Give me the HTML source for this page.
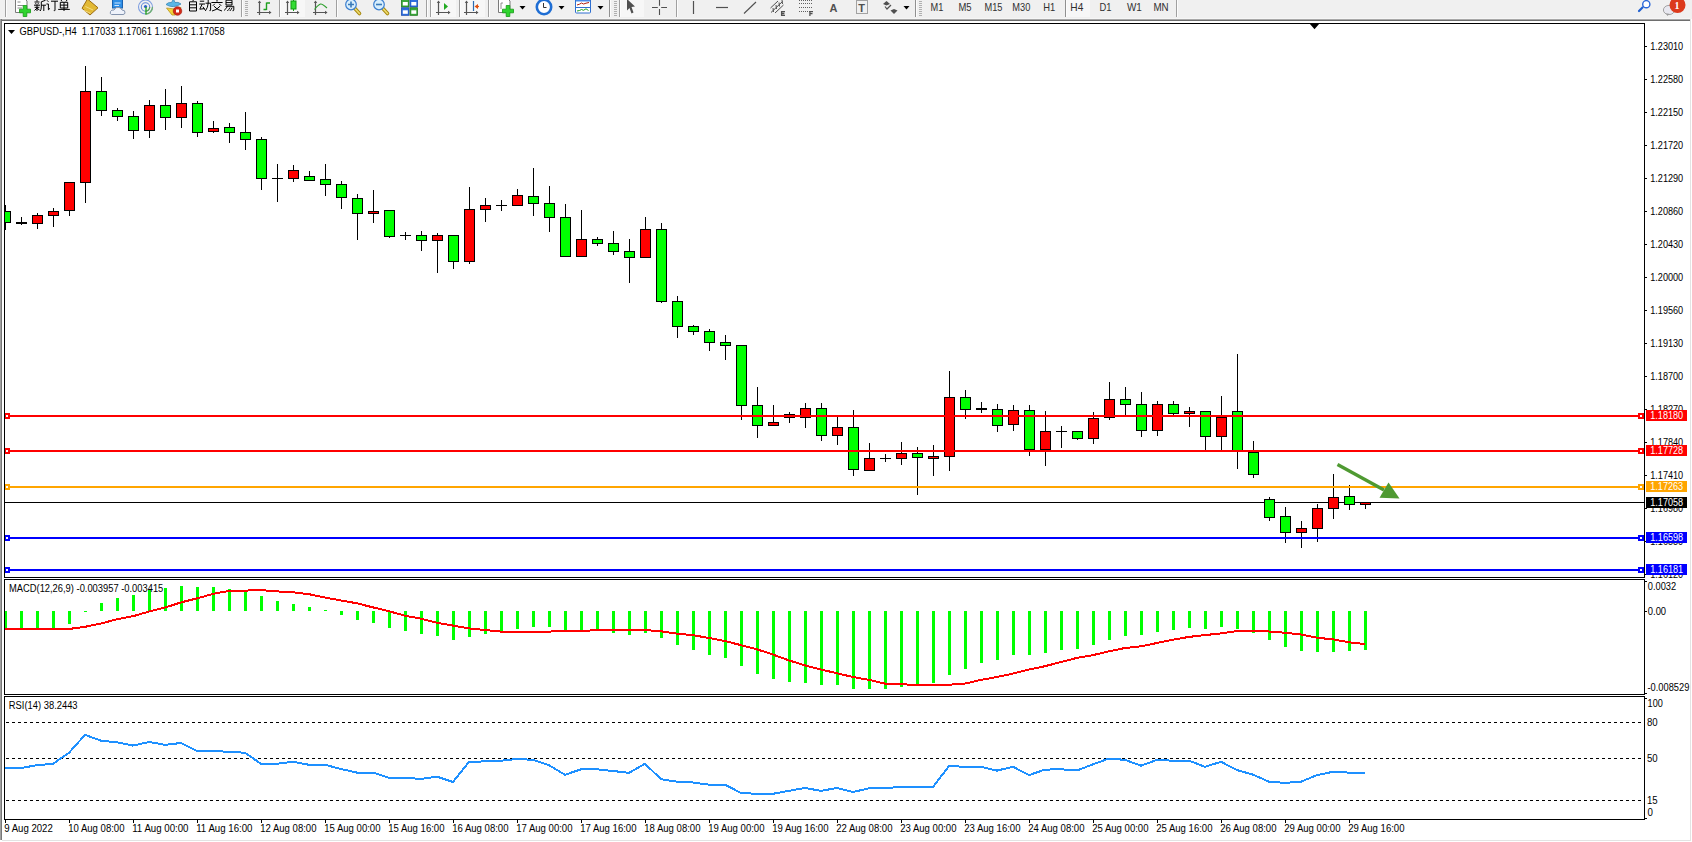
<!DOCTYPE html>
<html><head><meta charset="utf-8"><title>GBPUSD H4</title>
<style>
html,body{margin:0;padding:0;background:#fff;width:1692px;height:842px;overflow:hidden}
svg{position:absolute;left:0;top:0;display:block}
text{font-family:'Liberation Sans',sans-serif}
</style></head><body>
<svg width="1692" height="842" viewBox="0 0 1692 842" shape-rendering="crispEdges">

<rect x="0" y="0" width="1692" height="19" fill="#f0f0f0"/>
<rect x="0" y="18" width="1690" height="1" fill="#f6f6f6"/>
<rect x="0" y="19" width="1690" height="1" fill="#a8a8a8"/>
<rect x="0" y="20" width="1690" height="1" fill="#6e6e6e"/>
<g shape-rendering="geometricPrecision">
<rect x="5" y="0" width="1" height="17" fill="#a0a0a0" shape-rendering="crispEdges"/>
<rect x="6" y="0" width="1" height="17" fill="#fcfcfc" shape-rendering="crispEdges"/>
<path d="M15.5,-2 H24 L27,1 V12.5 H15.5 Z" fill="#fff" stroke="#7a7a7a" stroke-width="1"/>
<path d="M17.5,2 H20.5 M17.5,5.5 H23.5 M17.5,8 H22" stroke="#8a8a8a" stroke-width="1"/>
<path d="M23.2,5.5 h3.6 v3.7 h3.7 v3.6 h-3.7 v3.7 h-3.6 v-3.7 h-3.7 v-3.6 h3.7 z" fill="#2fd42f" stroke="#139a13" stroke-width="0.8"/>
<g transform="translate(34,0)" stroke="#000" stroke-width="1" fill="none" stroke-linecap="butt">
<path d="M3,0 V1.5 M0.5,2 H5.5 M1.6,3.2 L2.3,4.5 M4.4,3.2 L3.7,4.5 M0,5.2 H6 M0.6,7.3 H5.4 M3,5.2 V11 M3,8 L0.5,10.5 M3,8.3 L5.5,10 M11.5,0.3 L7.3,1.8 M7.3,1.8 V7 Q7.3,9.5 6.2,11 M7.3,5.2 H12 M9.8,5.2 V11"/>
</g>
<g transform="translate(46,0)" stroke="#000" stroke-width="1" fill="none" stroke-linecap="butt">
<path d="M1,0.3 L2.4,1.8 M0.4,4 H2.4 V9.8 L4,8.3 M5,1.2 H12 M9,1.2 V10.2 Q9,11 7.8,10.6"/>
</g>
<g transform="translate(58,0)" stroke="#000" stroke-width="1" fill="none" stroke-linecap="butt">
<path d="M3,0 L4,1.4 M9,0 L8,1.4 M2.3,2.3 H9.7 V8 H2.3 Z M2.3,5.1 H9.7 M6,2.3 V11 M0.2,9.4 H11.8"/>
</g>
<polygon points="87.5,-1 98,7.8 90,15 82,8.3" fill="#e2b935" stroke="#9c6c12" stroke-width="1"/>
<path d="M84,10.5 L90.5,13.2 M85.5,6.5 L93,10" stroke="#f5dc80" stroke-width="1"/>
<rect x="112.5" y="-2" width="10" height="10" fill="#2f8fe6" stroke="#1b62b0" stroke-width="1"/>
<path d="M114.5,3 H120.5 M114.5,5.5 H119" stroke="#cfe6ff" stroke-width="1"/>
<path d="M111.5,14.5 Q109.5,14 110.5,11.5 Q111.5,9.5 114,10 Q115.5,6.5 119,7.5 Q121.5,8 122,10 Q125.5,10 125,13 Q124.5,14.5 123,14.5 Z" fill="#eef2fa" stroke="#8494ae" stroke-width="1"/>
<circle cx="145.5" cy="7" r="7" fill="none" stroke="#7f9fe0" stroke-width="1.1"/>
<path d="M152.5,7 A7,7 0 0 1 145.5,14" stroke="#70b070" stroke-width="1.3" fill="none"/>
<circle cx="145.5" cy="7" r="4.2" fill="none" stroke="#5f8ad8" stroke-width="1.1"/>
<path d="M149.7,7 A4.2,4.2 0 0 1 145.5,11.2" stroke="#5aa55a" stroke-width="1.2" fill="none"/>
<circle cx="145.5" cy="6.5" r="1.6" fill="#2a5fc8"/>
<path d="M146,7 V14.5" stroke="#2aa52a" stroke-width="1.4" fill="none"/>
<path d="M166,4.5 Q173,9 181,4 Q178,1.5 175,2.5 L173.5,-1 L171.5,2.5 Q168,2 166,4.5 Z" fill="#5ab6e6" stroke="#3a86b6" stroke-width="0.8"/>
<path d="M166.5,8 Q173.5,10 181,7.5 L175,15 H172 Z" fill="#f2d43a" stroke="#b8941a" stroke-width="0.8"/>
<circle cx="177.5" cy="11" r="4.3" fill="#d42a18" stroke="#a01a0a" stroke-width="0.6"/>
<rect x="176" y="9.5" width="3" height="3" fill="#fff"/>
<g transform="translate(187,0)" stroke="#000" stroke-width="1" fill="none" stroke-linecap="butt">
<path d="M6.5,0 L5.5,1.3 M2.5,1.8 H9.5 V11 H2.5 Z M2.5,4.8 H9.5 M2.5,7.8 H9.5"/>
</g>
<g transform="translate(199,0)" stroke="#000" stroke-width="1" fill="none" stroke-linecap="butt">
<path d="M0.8,1.2 H5.2 M0.2,4 H6 M3.2,4 L0.8,9.2 L5.5,8.6 M4,6.8 L5.8,9.8 M6.5,3.2 H11.6 V10 Q11.6,11 10.5,10.6 M9.2,0 V3.2 Q9,7.5 6.3,11"/>
</g>
<g transform="translate(211,0)" stroke="#000" stroke-width="1" fill="none" stroke-linecap="butt">
<path d="M6,0 V1.6 M0.4,2.5 H11.6 M3.8,3.8 L1.8,5.8 M8.2,3.8 L10.2,5.8 M3,6.2 Q6,10 11,11 M9,6.2 Q6,10 1,11"/>
</g>
<g transform="translate(223,0)" stroke="#000" stroke-width="1" fill="none" stroke-linecap="butt">
<path d="M3,0.2 H9 V5 H3 Z M3,2.6 H9 M2.5,6.3 H10.8 V10 Q10.8,11 9.5,10.7 M4.5,6.3 Q3,9 1,10.5 M7,7.5 Q6,9.5 4.3,11 M9.2,7.5 Q8.3,9.5 6.8,11"/>
</g>
<rect x="241" y="0" width="1" height="17" fill="#a0a0a0" shape-rendering="crispEdges"/>
<rect x="242" y="0" width="1" height="17" fill="#fcfcfc" shape-rendering="crispEdges"/>
<rect x="245" y="1" width="3" height="1" fill="#b0b0b0" shape-rendering="crispEdges"/>
<rect x="245" y="3" width="3" height="1" fill="#b0b0b0" shape-rendering="crispEdges"/>
<rect x="245" y="5" width="3" height="1" fill="#b0b0b0" shape-rendering="crispEdges"/>
<rect x="245" y="7" width="3" height="1" fill="#b0b0b0" shape-rendering="crispEdges"/>
<rect x="245" y="9" width="3" height="1" fill="#b0b0b0" shape-rendering="crispEdges"/>
<rect x="245" y="11" width="3" height="1" fill="#b0b0b0" shape-rendering="crispEdges"/>
<rect x="245" y="13" width="3" height="1" fill="#b0b0b0" shape-rendering="crispEdges"/>
<rect x="245" y="15" width="3" height="1" fill="#b0b0b0" shape-rendering="crispEdges"/>
<path d="M259.5,1.5 V15 M257,12.5 H271" stroke="#555" stroke-width="1.2" fill="none"/>
<polygon points="259.5,0.5 257.8,3 261.2,3" fill="#555"/>
<polygon points="271.5,12.5 269,10.8 269,14.2" fill="#555"/>
<path d="M266.5,2.5 V10 M266.5,3 H270 M266.5,9.5 H263.5" stroke="#1fa01f" stroke-width="1.4" fill="none"/>
<rect x="279" y="0" width="1" height="17" fill="#a0a0a0" shape-rendering="crispEdges"/>
<rect x="280" y="0" width="1" height="17" fill="#fcfcfc" shape-rendering="crispEdges"/>
<rect x="281" y="0" width="24" height="17" fill="#f7f7f7" shape-rendering="crispEdges"/>
<path d="M287.5,1.5 V15 M285,12.5 H299" stroke="#555" stroke-width="1.2" fill="none"/>
<polygon points="287.5,0.5 285.8,3 289.2,3" fill="#555"/>
<polygon points="299.5,12.5 297,10.8 297,14.2" fill="#555"/>
<path d="M293.5,-1 V11" stroke="#119911" stroke-width="1"/>
<rect x="291" y="1" width="5" height="8" fill="#33dd33" stroke="#119911" stroke-width="1"/>
<path d="M315.5,1.5 V15 M313,12.5 H327" stroke="#555" stroke-width="1.2" fill="none"/>
<polygon points="315.5,0.5 313.8,3 317.2,3" fill="#555"/>
<polygon points="327.5,12.5 325,10.8 325,14.2" fill="#555"/>
<path d="M314.5,9.5 Q318,5 320.5,4 Q322,3.5 327,8" stroke="#2ea02e" stroke-width="1.1" fill="none"/>
<rect x="336" y="0" width="1" height="17" fill="#a0a0a0" shape-rendering="crispEdges"/>
<rect x="337" y="0" width="1" height="17" fill="#fcfcfc" shape-rendering="crispEdges"/>
<path d="M354,7.5 L359.5,13.5" stroke="#a88a10" stroke-width="3.6" stroke-linecap="round"/>
<path d="M354,7.5 L359.5,13.5" stroke="#f0dc70" stroke-width="1.6" stroke-linecap="round"/>
<circle cx="351" cy="4.5" r="5.3" fill="#d8eefc" stroke="#3c7fd0" stroke-width="1.2"/>
<path d="M348,4.5 H354 M351,1.5 V7.5" stroke="#3a7ab8" stroke-width="1.6"/>
<path d="M382,7.5 L387.5,13.5" stroke="#a88a10" stroke-width="3.6" stroke-linecap="round"/>
<path d="M382,7.5 L387.5,13.5" stroke="#f0dc70" stroke-width="1.6" stroke-linecap="round"/>
<circle cx="379" cy="4.5" r="5.3" fill="#d8eefc" stroke="#3c7fd0" stroke-width="1.2"/>
<path d="M376,4.5 H382" stroke="#3a7ab8" stroke-width="1.6"/>
<rect x="401.5" y="-0.5" width="7.5" height="7.5" fill="#3aa83a" stroke="#1f7a1f" stroke-width="0.8"/>
<rect x="402.8" y="2" width="5" height="3.5" fill="#fff"/>
<rect x="410.0" y="-0.5" width="7.5" height="7.5" fill="#2f6fe0" stroke="#1c4cb0" stroke-width="0.8"/>
<rect x="411.3" y="2" width="5" height="3.5" fill="#fff"/>
<rect x="401.5" y="7.8" width="7.5" height="7.5" fill="#2f6fe0" stroke="#1c4cb0" stroke-width="0.8"/>
<rect x="402.8" y="10.3" width="5" height="3.5" fill="#fff"/>
<rect x="410.0" y="7.8" width="7.5" height="7.5" fill="#3aa83a" stroke="#1f7a1f" stroke-width="0.8"/>
<rect x="411.3" y="10.3" width="5" height="3.5" fill="#fff"/>
<rect x="426" y="0" width="1" height="17" fill="#a0a0a0" shape-rendering="crispEdges"/>
<rect x="427" y="0" width="1" height="17" fill="#fcfcfc" shape-rendering="crispEdges"/>
<rect x="430" y="0" width="1" height="17" fill="#a0a0a0" shape-rendering="crispEdges"/>
<rect x="431" y="0" width="1" height="17" fill="#fcfcfc" shape-rendering="crispEdges"/>
<rect x="432" y="0" width="24" height="17" fill="#f7f7f7" shape-rendering="crispEdges"/>
<path d="M438.5,1.5 V15 M436,12.5 H450" stroke="#555" stroke-width="1.2" fill="none"/>
<polygon points="438.5,0.5 436.8,3 440.2,3" fill="#555"/>
<polygon points="450.5,12.5 448,10.8 448,14.2" fill="#555"/>
<polygon points="444,3 448,6.5 444,10" fill="#22aa22"/>
<rect x="459" y="0" width="1" height="17" fill="#a0a0a0" shape-rendering="crispEdges"/>
<rect x="460" y="0" width="1" height="17" fill="#fcfcfc" shape-rendering="crispEdges"/>
<rect x="461" y="0" width="24" height="17" fill="#f7f7f7" shape-rendering="crispEdges"/>
<path d="M466.5,1.5 V15 M464,12.5 H478" stroke="#555" stroke-width="1.2" fill="none"/>
<polygon points="466.5,0.5 464.8,3 468.2,3" fill="#555"/>
<polygon points="478.5,12.5 476,10.8 476,14.2" fill="#555"/>
<path d="M473.5,1 V11" stroke="#2a6ab0" stroke-width="1.2"/>
<polygon points="474.5,6.5 478,4 478,9" fill="#e05010"/>
<path d="M476,6.5 H479" stroke="#e05010" stroke-width="1.2"/>
<rect x="488" y="0" width="1" height="17" fill="#a0a0a0" shape-rendering="crispEdges"/>
<rect x="489" y="0" width="1" height="17" fill="#fcfcfc" shape-rendering="crispEdges"/>
<path d="M498.5,-2 H507 L510,1 V12.5 H498.5 Z" fill="#fff" stroke="#7a7a7a" stroke-width="1"/>
<path d="M501,3 V9 M501,3 H503" stroke="#777" stroke-width="0.8"/>
<path d="M506.2,5.5 h3.6 v3.7 h3.7 v3.6 h-3.7 v3.7 h-3.6 v-3.7 h-3.7 v-3.6 h3.7 z" fill="#2fd42f" stroke="#139a13" stroke-width="0.8"/>
<polygon points="519.5,6 525.5,6 522.5,9.5" fill="#000"/>
<circle cx="544" cy="7" r="7.2" fill="#fff" stroke="#1f6ed4" stroke-width="2.6"/>
<path d="M543.5,3 V7.5 H546.5" stroke="#333" stroke-width="1" fill="none"/>
<polygon points="558.5,6 564.5,6 561.5,9.5" fill="#000"/>
<rect x="575.5" y="-1" width="15" height="14" rx="1" fill="#fff" stroke="#2f6fd0" stroke-width="1"/>
<rect x="576" y="-1" width="14" height="2.5" fill="#4a8ae8"/>
<path d="M576,7.5 H590" stroke="#2f6fd0" stroke-width="1"/>
<path d="M577,5 L579.5,4.2 L581.5,3 L583.5,4 L586,3.2 L589,2.5" stroke="#b02010" stroke-width="1" fill="none"/>
<path d="M577,11 L579.5,10.5 L581.5,9.5 L583.5,10.3 L586,8.8 L588.5,10.5" stroke="#20a020" stroke-width="1" fill="none"/>
<polygon points="597.5,6 603.5,6 600.5,9.5" fill="#000"/>
<rect x="609" y="0" width="1" height="17" fill="#909090" shape-rendering="crispEdges"/>
<rect x="610" y="0" width="1" height="17" fill="#fcfcfc" shape-rendering="crispEdges"/>
<rect x="614" y="1" width="3" height="1" fill="#b0b0b0" shape-rendering="crispEdges"/>
<rect x="614" y="3" width="3" height="1" fill="#b0b0b0" shape-rendering="crispEdges"/>
<rect x="614" y="5" width="3" height="1" fill="#b0b0b0" shape-rendering="crispEdges"/>
<rect x="614" y="7" width="3" height="1" fill="#b0b0b0" shape-rendering="crispEdges"/>
<rect x="614" y="9" width="3" height="1" fill="#b0b0b0" shape-rendering="crispEdges"/>
<rect x="614" y="11" width="3" height="1" fill="#b0b0b0" shape-rendering="crispEdges"/>
<rect x="614" y="13" width="3" height="1" fill="#b0b0b0" shape-rendering="crispEdges"/>
<rect x="614" y="15" width="3" height="1" fill="#b0b0b0" shape-rendering="crispEdges"/>
<rect x="619" y="0" width="1" height="17" fill="#a0a0a0" shape-rendering="crispEdges"/>
<rect x="620" y="0" width="1" height="17" fill="#fcfcfc" shape-rendering="crispEdges"/>
<rect x="621" y="0" width="23" height="17" fill="#f7f7f7" shape-rendering="crispEdges"/>
<polygon points="627,-1 635,6.5 631.5,7 633.5,12.5 631.5,13.5 629.5,8 627,10.5" fill="#505050"/>
<path d="M659.5,0 V5.8 M659.5,9 V15 M652,7.5 H657.8 M661.2,7.5 H667" stroke="#505050" stroke-width="1.1"/>
<rect x="676" y="0" width="1" height="17" fill="#a0a0a0" shape-rendering="crispEdges"/>
<rect x="677" y="0" width="1" height="17" fill="#fcfcfc" shape-rendering="crispEdges"/>
<path d="M693.5,1 V14" stroke="#505050" stroke-width="1.2"/>
<path d="M716,7.5 H728" stroke="#505050" stroke-width="1.2"/>
<path d="M744,13.5 L756,2" stroke="#505050" stroke-width="1.1"/>
<path d="M770.5,8 L778,1 M771,12.5 L782.5,1.5 M775,13 L783.5,5" stroke="#505050" stroke-width="1"/>
<path d="M773,8 L773.5,12 M776,5 L776.5,9 M779,2.5 L779.5,6.5 M782,0 L782.5,4" stroke="#505050" stroke-width="1"/>
<path d="M785,11.6 H781.6 V15.4 H785 M781.6,13.5 H784.4" stroke="#505050" stroke-width="1.3" fill="none"/>
<path d="M799,0.5 H812" stroke="#606060" stroke-width="1" stroke-dasharray="1,1"/>
<path d="M799,3.5 H812" stroke="#606060" stroke-width="1" stroke-dasharray="1,1"/>
<path d="M799,7.5 H812" stroke="#606060" stroke-width="1" stroke-dasharray="1,1"/>
<path d="M799,11.5 H812" stroke="#606060" stroke-width="1" stroke-dasharray="1,1"/>
<path d="M813,11.6 H809.9 V16 M809.9,13.6 H812.5" stroke="#505050" stroke-width="1.3" fill="none"/>
<text x="829.5" y="12" font-size="11" font-weight="bold" fill="#505050" style="font-family:'Liberation Sans',sans-serif">A</text>
<rect x="856.5" y="0.5" width="11" height="13" fill="none" stroke="#555" stroke-width="1" stroke-dasharray="1,1"/>
<text x="858.2" y="11.5" font-size="11" font-weight="bold" fill="#505050" style="font-family:'Liberation Sans',sans-serif">T</text>
<polygon points="886.5,1 890,4 886.5,5.5 883,4" fill="#505050"/>
<path d="M885,6.5 L887,9 L891,5" stroke="#505050" stroke-width="1.2" fill="none"/>
<polygon points="894,9 897.5,10.5 894,14 890.5,10.5" fill="#505050"/>
<polygon points="903.5,6 909.5,6 906.5,9.5" fill="#000"/>
<rect x="915" y="0" width="1" height="17" fill="#909090" shape-rendering="crispEdges"/>
<rect x="916" y="0" width="1" height="17" fill="#fcfcfc" shape-rendering="crispEdges"/>
<rect x="919" y="1" width="3" height="1" fill="#b0b0b0" shape-rendering="crispEdges"/>
<rect x="919" y="3" width="3" height="1" fill="#b0b0b0" shape-rendering="crispEdges"/>
<rect x="919" y="5" width="3" height="1" fill="#b0b0b0" shape-rendering="crispEdges"/>
<rect x="919" y="7" width="3" height="1" fill="#b0b0b0" shape-rendering="crispEdges"/>
<rect x="919" y="9" width="3" height="1" fill="#b0b0b0" shape-rendering="crispEdges"/>
<rect x="919" y="11" width="3" height="1" fill="#b0b0b0" shape-rendering="crispEdges"/>
<rect x="919" y="13" width="3" height="1" fill="#b0b0b0" shape-rendering="crispEdges"/>
<rect x="919" y="15" width="3" height="1" fill="#b0b0b0" shape-rendering="crispEdges"/>
<rect x="1066" y="0" width="24" height="17" fill="#f7f7f7" shape-rendering="crispEdges"/>
<rect x="1065" y="0" width="1" height="17" fill="#909090" shape-rendering="crispEdges"/>
<rect x="1066" y="0" width="1" height="17" fill="#fcfcfc" shape-rendering="crispEdges"/>
<text x="930.6" y="11" font-size="10.2" fill="#303030" textLength="12.8" lengthAdjust="spacingAndGlyphs" style="font-family:'Liberation Sans',sans-serif">M1</text>
<text x="958.4" y="11" font-size="10.2" fill="#303030" textLength="13.1" lengthAdjust="spacingAndGlyphs" style="font-family:'Liberation Sans',sans-serif">M5</text>
<text x="984.5" y="11" font-size="10.2" fill="#303030" textLength="18.0" lengthAdjust="spacingAndGlyphs" style="font-family:'Liberation Sans',sans-serif">M15</text>
<text x="1012.3" y="11" font-size="10.2" fill="#303030" textLength="18.0" lengthAdjust="spacingAndGlyphs" style="font-family:'Liberation Sans',sans-serif">M30</text>
<text x="1043.3" y="11" font-size="10.2" fill="#303030" textLength="12.0" lengthAdjust="spacingAndGlyphs" style="font-family:'Liberation Sans',sans-serif">H1</text>
<text x="1070.3" y="11" font-size="10.2" fill="#303030" textLength="13.0" lengthAdjust="spacingAndGlyphs" style="font-family:'Liberation Sans',sans-serif">H4</text>
<text x="1099.5" y="11" font-size="10.2" fill="#303030" textLength="12.0" lengthAdjust="spacingAndGlyphs" style="font-family:'Liberation Sans',sans-serif">D1</text>
<text x="1126.9" y="11" font-size="10.2" fill="#303030" textLength="14.9" lengthAdjust="spacingAndGlyphs" style="font-family:'Liberation Sans',sans-serif">W1</text>
<text x="1153.4" y="11" font-size="10.2" fill="#303030" textLength="15.2" lengthAdjust="spacingAndGlyphs" style="font-family:'Liberation Sans',sans-serif">MN</text>
<rect x="1176" y="0" width="1" height="17" fill="#a0a0a0" shape-rendering="crispEdges"/>
<rect x="1177" y="0" width="1" height="17" fill="#fcfcfc" shape-rendering="crispEdges"/>
<path d="M1642.5,7.5 L1639,11" stroke="#1f5fd0" stroke-width="2.2" stroke-linecap="round"/>
<circle cx="1646.3" cy="4.2" r="3.6" fill="#fff" stroke="#2a66d8" stroke-width="1.4"/>
<ellipse cx="1669" cy="10" rx="5.6" ry="4.6" fill="#e8e8f0" stroke="#9a9a9a" stroke-width="0.9"/>
<polygon points="1666,13.5 1667.5,16 1669.5,13.8" fill="#9a9a9a"/>
<circle cx="1677.5" cy="5" r="8" fill="#dc3a1c"/>
<text x="1674.5" y="9" font-size="10" font-weight="bold" fill="#fff" style="font-family:'Liberation Serif',serif">1</text>
</g>
<rect x="0" y="19" width="1" height="821" fill="#a0a0a0"/>
<rect x="1" y="19" width="1" height="821" fill="#777"/>
<rect x="1690" y="19" width="1" height="822" fill="#e3e3e3"/>
<rect x="2" y="840" width="1689" height="1" fill="#e3e3e3"/>
<defs><clipPath id="cm"><rect x="5" y="24" width="1639" height="553"/></clipPath><clipPath id="cmacd"><rect x="5" y="580" width="1639" height="114"/></clipPath><clipPath id="crsi"><rect x="5" y="697" width="1639" height="122"/></clipPath></defs>
<rect x="5" y="502" width="1639" height="1" fill="#000"/>
<g clip-path="url(#cm)">
<rect x="5" y="205" width="1" height="25" fill="#000"/>
<rect x="0" y="211" width="11" height="12" fill="#000"/>
<rect x="1" y="212" width="9" height="10" fill="#00ff00"/>
<rect x="21" y="217" width="1" height="8" fill="#000"/>
<rect x="16" y="222" width="11" height="2" fill="#000"/>
<rect x="37" y="213" width="1" height="16" fill="#000"/>
<rect x="32" y="215" width="11" height="9" fill="#000"/>
<rect x="33" y="216" width="9" height="7" fill="#ff0000"/>
<rect x="53" y="208" width="1" height="19" fill="#000"/>
<rect x="48" y="211" width="11" height="5" fill="#000"/>
<rect x="49" y="212" width="9" height="3" fill="#ff0000"/>
<rect x="69" y="182" width="1" height="34" fill="#000"/>
<rect x="64" y="182" width="11" height="29" fill="#000"/>
<rect x="65" y="183" width="9" height="27" fill="#ff0000"/>
<rect x="85" y="66" width="1" height="137" fill="#000"/>
<rect x="80" y="91" width="11" height="92" fill="#000"/>
<rect x="81" y="92" width="9" height="90" fill="#ff0000"/>
<rect x="101" y="77" width="1" height="39" fill="#000"/>
<rect x="96" y="91" width="11" height="20" fill="#000"/>
<rect x="97" y="92" width="9" height="18" fill="#00ff00"/>
<rect x="117" y="108" width="1" height="13" fill="#000"/>
<rect x="112" y="110" width="11" height="7" fill="#000"/>
<rect x="113" y="111" width="9" height="5" fill="#00ff00"/>
<rect x="133" y="111" width="1" height="28" fill="#000"/>
<rect x="128" y="116" width="11" height="15" fill="#000"/>
<rect x="129" y="117" width="9" height="13" fill="#00ff00"/>
<rect x="149" y="100" width="1" height="38" fill="#000"/>
<rect x="144" y="105" width="11" height="26" fill="#000"/>
<rect x="145" y="106" width="9" height="24" fill="#ff0000"/>
<rect x="165" y="89" width="1" height="41" fill="#000"/>
<rect x="160" y="105" width="11" height="13" fill="#000"/>
<rect x="161" y="106" width="9" height="11" fill="#00ff00"/>
<rect x="181" y="86" width="1" height="42" fill="#000"/>
<rect x="176" y="103" width="11" height="15" fill="#000"/>
<rect x="177" y="104" width="9" height="13" fill="#ff0000"/>
<rect x="197" y="101" width="1" height="36" fill="#000"/>
<rect x="192" y="103" width="11" height="30" fill="#000"/>
<rect x="193" y="104" width="9" height="28" fill="#00ff00"/>
<rect x="213" y="121" width="1" height="12" fill="#000"/>
<rect x="208" y="128" width="11" height="4" fill="#000"/>
<rect x="209" y="129" width="9" height="2" fill="#ff0000"/>
<rect x="229" y="123" width="1" height="20" fill="#000"/>
<rect x="224" y="127" width="11" height="6" fill="#000"/>
<rect x="225" y="128" width="9" height="4" fill="#00ff00"/>
<rect x="245" y="112" width="1" height="38" fill="#000"/>
<rect x="240" y="132" width="11" height="8" fill="#000"/>
<rect x="241" y="133" width="9" height="6" fill="#00ff00"/>
<rect x="261" y="137" width="1" height="53" fill="#000"/>
<rect x="256" y="139" width="11" height="40" fill="#000"/>
<rect x="257" y="140" width="9" height="38" fill="#00ff00"/>
<rect x="277" y="164" width="1" height="38" fill="#000"/>
<rect x="272" y="178" width="11" height="1" fill="#000"/>
<rect x="293" y="165" width="1" height="17" fill="#000"/>
<rect x="288" y="170" width="11" height="9" fill="#000"/>
<rect x="289" y="171" width="9" height="7" fill="#ff0000"/>
<rect x="309" y="171" width="1" height="10" fill="#000"/>
<rect x="304" y="176" width="11" height="5" fill="#000"/>
<rect x="305" y="177" width="9" height="3" fill="#00ff00"/>
<rect x="325" y="164" width="1" height="32" fill="#000"/>
<rect x="320" y="179" width="11" height="6" fill="#000"/>
<rect x="321" y="180" width="9" height="4" fill="#00ff00"/>
<rect x="341" y="181" width="1" height="28" fill="#000"/>
<rect x="336" y="184" width="11" height="14" fill="#000"/>
<rect x="337" y="185" width="9" height="12" fill="#00ff00"/>
<rect x="357" y="194" width="1" height="46" fill="#000"/>
<rect x="352" y="198" width="11" height="16" fill="#000"/>
<rect x="353" y="199" width="9" height="14" fill="#00ff00"/>
<rect x="373" y="190" width="1" height="33" fill="#000"/>
<rect x="368" y="211" width="11" height="3" fill="#000"/>
<rect x="369" y="212" width="9" height="1" fill="#ff0000"/>
<rect x="389" y="210" width="1" height="28" fill="#000"/>
<rect x="384" y="210" width="11" height="27" fill="#000"/>
<rect x="385" y="211" width="9" height="25" fill="#00ff00"/>
<rect x="405" y="232" width="1" height="8" fill="#000"/>
<rect x="400" y="235" width="11" height="1" fill="#000"/>
<rect x="421" y="231" width="1" height="20" fill="#000"/>
<rect x="416" y="235" width="11" height="6" fill="#000"/>
<rect x="417" y="236" width="9" height="4" fill="#00ff00"/>
<rect x="437" y="233" width="1" height="40" fill="#000"/>
<rect x="432" y="235" width="11" height="6" fill="#000"/>
<rect x="433" y="236" width="9" height="4" fill="#ff0000"/>
<rect x="453" y="235" width="1" height="34" fill="#000"/>
<rect x="448" y="235" width="11" height="27" fill="#000"/>
<rect x="449" y="236" width="9" height="25" fill="#00ff00"/>
<rect x="469" y="187" width="1" height="77" fill="#000"/>
<rect x="464" y="209" width="11" height="53" fill="#000"/>
<rect x="465" y="210" width="9" height="51" fill="#ff0000"/>
<rect x="485" y="198" width="1" height="24" fill="#000"/>
<rect x="480" y="205" width="11" height="5" fill="#000"/>
<rect x="481" y="206" width="9" height="3" fill="#ff0000"/>
<rect x="501" y="200" width="1" height="11" fill="#000"/>
<rect x="496" y="205" width="11" height="1" fill="#000"/>
<rect x="517" y="189" width="1" height="17" fill="#000"/>
<rect x="512" y="195" width="11" height="11" fill="#000"/>
<rect x="513" y="196" width="9" height="9" fill="#ff0000"/>
<rect x="533" y="168" width="1" height="48" fill="#000"/>
<rect x="528" y="196" width="11" height="8" fill="#000"/>
<rect x="529" y="197" width="9" height="6" fill="#00ff00"/>
<rect x="549" y="186" width="1" height="46" fill="#000"/>
<rect x="544" y="203" width="11" height="15" fill="#000"/>
<rect x="545" y="204" width="9" height="13" fill="#00ff00"/>
<rect x="565" y="204" width="1" height="53" fill="#000"/>
<rect x="560" y="217" width="11" height="40" fill="#000"/>
<rect x="561" y="218" width="9" height="38" fill="#00ff00"/>
<rect x="581" y="210" width="1" height="47" fill="#000"/>
<rect x="576" y="239" width="11" height="18" fill="#000"/>
<rect x="577" y="240" width="9" height="16" fill="#ff0000"/>
<rect x="597" y="237" width="1" height="9" fill="#000"/>
<rect x="592" y="239" width="11" height="5" fill="#000"/>
<rect x="593" y="240" width="9" height="3" fill="#00ff00"/>
<rect x="613" y="231" width="1" height="24" fill="#000"/>
<rect x="608" y="243" width="11" height="9" fill="#000"/>
<rect x="609" y="244" width="9" height="7" fill="#00ff00"/>
<rect x="629" y="239" width="1" height="44" fill="#000"/>
<rect x="624" y="251" width="11" height="7" fill="#000"/>
<rect x="625" y="252" width="9" height="5" fill="#00ff00"/>
<rect x="645" y="217" width="1" height="41" fill="#000"/>
<rect x="640" y="229" width="11" height="29" fill="#000"/>
<rect x="641" y="230" width="9" height="27" fill="#ff0000"/>
<rect x="661" y="223" width="1" height="80" fill="#000"/>
<rect x="656" y="229" width="11" height="73" fill="#000"/>
<rect x="657" y="230" width="9" height="71" fill="#00ff00"/>
<rect x="677" y="296" width="1" height="42" fill="#000"/>
<rect x="672" y="301" width="11" height="26" fill="#000"/>
<rect x="673" y="302" width="9" height="24" fill="#00ff00"/>
<rect x="693" y="325" width="1" height="10" fill="#000"/>
<rect x="688" y="326" width="11" height="6" fill="#000"/>
<rect x="689" y="327" width="9" height="4" fill="#00ff00"/>
<rect x="709" y="329" width="1" height="22" fill="#000"/>
<rect x="704" y="331" width="11" height="12" fill="#000"/>
<rect x="705" y="332" width="9" height="10" fill="#00ff00"/>
<rect x="725" y="335" width="1" height="25" fill="#000"/>
<rect x="720" y="342" width="11" height="4" fill="#000"/>
<rect x="721" y="343" width="9" height="2" fill="#00ff00"/>
<rect x="741" y="345" width="1" height="75" fill="#000"/>
<rect x="736" y="345" width="11" height="61" fill="#000"/>
<rect x="737" y="346" width="9" height="59" fill="#00ff00"/>
<rect x="757" y="387" width="1" height="51" fill="#000"/>
<rect x="752" y="405" width="11" height="21" fill="#000"/>
<rect x="753" y="406" width="9" height="19" fill="#00ff00"/>
<rect x="773" y="405" width="1" height="21" fill="#000"/>
<rect x="768" y="422" width="11" height="4" fill="#000"/>
<rect x="769" y="423" width="9" height="2" fill="#ff0000"/>
<rect x="789" y="412" width="1" height="11" fill="#000"/>
<rect x="784" y="414" width="11" height="4" fill="#000"/>
<rect x="785" y="415" width="9" height="2" fill="#ff0000"/>
<rect x="805" y="403" width="1" height="25" fill="#000"/>
<rect x="800" y="408" width="11" height="10" fill="#000"/>
<rect x="801" y="409" width="9" height="8" fill="#ff0000"/>
<rect x="821" y="403" width="1" height="38" fill="#000"/>
<rect x="816" y="408" width="11" height="28" fill="#000"/>
<rect x="817" y="409" width="9" height="26" fill="#00ff00"/>
<rect x="837" y="417" width="1" height="28" fill="#000"/>
<rect x="832" y="427" width="11" height="9" fill="#000"/>
<rect x="833" y="428" width="9" height="7" fill="#ff0000"/>
<rect x="853" y="410" width="1" height="66" fill="#000"/>
<rect x="848" y="427" width="11" height="43" fill="#000"/>
<rect x="849" y="428" width="9" height="41" fill="#00ff00"/>
<rect x="869" y="443" width="1" height="28" fill="#000"/>
<rect x="864" y="458" width="11" height="13" fill="#000"/>
<rect x="865" y="459" width="9" height="11" fill="#ff0000"/>
<rect x="885" y="454" width="1" height="8" fill="#000"/>
<rect x="880" y="458" width="11" height="1" fill="#000"/>
<rect x="901" y="442" width="1" height="23" fill="#000"/>
<rect x="896" y="453" width="11" height="6" fill="#000"/>
<rect x="897" y="454" width="9" height="4" fill="#ff0000"/>
<rect x="917" y="447" width="1" height="48" fill="#000"/>
<rect x="912" y="453" width="11" height="5" fill="#000"/>
<rect x="913" y="454" width="9" height="3" fill="#00ff00"/>
<rect x="933" y="445" width="1" height="31" fill="#000"/>
<rect x="928" y="456" width="11" height="3" fill="#000"/>
<rect x="929" y="457" width="9" height="1" fill="#ff0000"/>
<rect x="949" y="371" width="1" height="100" fill="#000"/>
<rect x="944" y="397" width="11" height="60" fill="#000"/>
<rect x="945" y="398" width="9" height="58" fill="#ff0000"/>
<rect x="965" y="390" width="1" height="29" fill="#000"/>
<rect x="960" y="397" width="11" height="13" fill="#000"/>
<rect x="961" y="398" width="9" height="11" fill="#00ff00"/>
<rect x="981" y="402" width="1" height="11" fill="#000"/>
<rect x="976" y="408" width="11" height="2" fill="#000"/>
<rect x="997" y="404" width="1" height="28" fill="#000"/>
<rect x="992" y="409" width="11" height="17" fill="#000"/>
<rect x="993" y="410" width="9" height="15" fill="#00ff00"/>
<rect x="1013" y="405" width="1" height="26" fill="#000"/>
<rect x="1008" y="410" width="11" height="15" fill="#000"/>
<rect x="1009" y="411" width="9" height="13" fill="#ff0000"/>
<rect x="1029" y="405" width="1" height="51" fill="#000"/>
<rect x="1024" y="410" width="11" height="40" fill="#000"/>
<rect x="1025" y="411" width="9" height="38" fill="#00ff00"/>
<rect x="1045" y="411" width="1" height="55" fill="#000"/>
<rect x="1040" y="431" width="11" height="19" fill="#000"/>
<rect x="1041" y="432" width="9" height="17" fill="#ff0000"/>
<rect x="1061" y="426" width="1" height="22" fill="#000"/>
<rect x="1056" y="431" width="11" height="1" fill="#000"/>
<rect x="1077" y="431" width="1" height="9" fill="#000"/>
<rect x="1072" y="431" width="11" height="8" fill="#000"/>
<rect x="1073" y="432" width="9" height="6" fill="#00ff00"/>
<rect x="1093" y="412" width="1" height="32" fill="#000"/>
<rect x="1088" y="418" width="11" height="21" fill="#000"/>
<rect x="1089" y="419" width="9" height="19" fill="#ff0000"/>
<rect x="1109" y="382" width="1" height="38" fill="#000"/>
<rect x="1104" y="399" width="11" height="19" fill="#000"/>
<rect x="1105" y="400" width="9" height="17" fill="#ff0000"/>
<rect x="1125" y="387" width="1" height="28" fill="#000"/>
<rect x="1120" y="399" width="11" height="6" fill="#000"/>
<rect x="1121" y="400" width="9" height="4" fill="#00ff00"/>
<rect x="1141" y="392" width="1" height="45" fill="#000"/>
<rect x="1136" y="404" width="11" height="27" fill="#000"/>
<rect x="1137" y="405" width="9" height="25" fill="#00ff00"/>
<rect x="1157" y="401" width="1" height="35" fill="#000"/>
<rect x="1152" y="404" width="11" height="27" fill="#000"/>
<rect x="1153" y="405" width="9" height="25" fill="#ff0000"/>
<rect x="1173" y="401" width="1" height="14" fill="#000"/>
<rect x="1168" y="404" width="11" height="10" fill="#000"/>
<rect x="1169" y="405" width="9" height="8" fill="#00ff00"/>
<rect x="1189" y="407" width="1" height="20" fill="#000"/>
<rect x="1184" y="411" width="11" height="3" fill="#000"/>
<rect x="1185" y="412" width="9" height="1" fill="#ff0000"/>
<rect x="1205" y="411" width="1" height="39" fill="#000"/>
<rect x="1200" y="411" width="11" height="26" fill="#000"/>
<rect x="1201" y="412" width="9" height="24" fill="#00ff00"/>
<rect x="1221" y="396" width="1" height="54" fill="#000"/>
<rect x="1216" y="417" width="11" height="20" fill="#000"/>
<rect x="1217" y="418" width="9" height="18" fill="#ff0000"/>
<rect x="1237" y="354" width="1" height="115" fill="#000"/>
<rect x="1232" y="411" width="11" height="40" fill="#000"/>
<rect x="1233" y="412" width="9" height="38" fill="#00ff00"/>
<rect x="1253" y="441" width="1" height="37" fill="#000"/>
<rect x="1248" y="452" width="11" height="23" fill="#000"/>
<rect x="1249" y="453" width="9" height="21" fill="#00ff00"/>
<rect x="1269" y="497" width="1" height="24" fill="#000"/>
<rect x="1264" y="499" width="11" height="19" fill="#000"/>
<rect x="1265" y="500" width="9" height="17" fill="#00ff00"/>
<rect x="1285" y="507" width="1" height="36" fill="#000"/>
<rect x="1280" y="516" width="11" height="17" fill="#000"/>
<rect x="1281" y="517" width="9" height="15" fill="#00ff00"/>
<rect x="1301" y="521" width="1" height="27" fill="#000"/>
<rect x="1296" y="528" width="11" height="5" fill="#000"/>
<rect x="1297" y="529" width="9" height="3" fill="#ff0000"/>
<rect x="1317" y="504" width="1" height="38" fill="#000"/>
<rect x="1312" y="508" width="11" height="21" fill="#000"/>
<rect x="1313" y="509" width="9" height="19" fill="#ff0000"/>
<rect x="1333" y="474" width="1" height="45" fill="#000"/>
<rect x="1328" y="497" width="11" height="12" fill="#000"/>
<rect x="1329" y="498" width="9" height="10" fill="#ff0000"/>
<rect x="1349" y="485" width="1" height="25" fill="#000"/>
<rect x="1344" y="496" width="11" height="9" fill="#000"/>
<rect x="1345" y="497" width="9" height="7" fill="#00ff00"/>
<rect x="1365" y="502" width="1" height="7" fill="#000"/>
<rect x="1360" y="502" width="11" height="3" fill="#000"/>
<rect x="1361" y="503" width="9" height="1" fill="#ff0000"/>
</g>
<g>
<rect x="5" y="415" width="1639" height="2" fill="#ff0000"/>
<rect x="4" y="413" width="6" height="6" fill="#ff0000"/>
<rect x="6" y="415" width="2" height="2" fill="#fff"/>
<rect x="1638" y="413" width="6" height="6" fill="#ff0000"/>
<rect x="1640" y="415" width="2" height="2" fill="#fff"/>
<rect x="5" y="450" width="1639" height="2" fill="#ff0000"/>
<rect x="4" y="448" width="6" height="6" fill="#ff0000"/>
<rect x="6" y="450" width="2" height="2" fill="#fff"/>
<rect x="1638" y="448" width="6" height="6" fill="#ff0000"/>
<rect x="1640" y="450" width="2" height="2" fill="#fff"/>
<rect x="5" y="486" width="1639" height="2" fill="#ffa500"/>
<rect x="4" y="484" width="6" height="6" fill="#ffa500"/>
<rect x="6" y="486" width="2" height="2" fill="#fff"/>
<rect x="1638" y="484" width="6" height="6" fill="#ffa500"/>
<rect x="1640" y="486" width="2" height="2" fill="#fff"/>
<rect x="5" y="537" width="1639" height="2" fill="#0000ff"/>
<rect x="4" y="535" width="6" height="6" fill="#0000ff"/>
<rect x="6" y="537" width="2" height="2" fill="#fff"/>
<rect x="1638" y="535" width="6" height="6" fill="#0000ff"/>
<rect x="1640" y="537" width="2" height="2" fill="#fff"/>
<rect x="5" y="569" width="1639" height="2" fill="#0000ff"/>
<rect x="4" y="567" width="6" height="6" fill="#0000ff"/>
<rect x="6" y="569" width="2" height="2" fill="#fff"/>
<rect x="1638" y="567" width="6" height="6" fill="#0000ff"/>
<rect x="1640" y="569" width="2" height="2" fill="#fff"/>
</g>
<g shape-rendering="geometricPrecision">
<line x1="1337.5" y1="464.6" x2="1384" y2="490" stroke="#4f9a32" stroke-width="3.4"/>
<polygon points="1388.5,482.5 1379.5,497.8 1399.5,498.5" fill="#4f9a32"/>
</g>
<g shape-rendering="geometricPrecision"><polygon points="1309.5,23.5 1319.5,23.5 1314.5,29.2" fill="#000"/></g>
<g clip-path="url(#cmacd)">
<rect x="4" y="611" width="3" height="17" fill="#00ff00"/>
<rect x="20" y="611" width="3" height="17" fill="#00ff00"/>
<rect x="36" y="611" width="3" height="17" fill="#00ff00"/>
<rect x="52" y="611" width="3" height="17" fill="#00ff00"/>
<rect x="68" y="611" width="3" height="13" fill="#00ff00"/>
<rect x="84" y="611" width="3" height="1" fill="#00ff00"/>
<rect x="100" y="603" width="3" height="8" fill="#00ff00"/>
<rect x="116" y="598" width="3" height="13" fill="#00ff00"/>
<rect x="132" y="595" width="3" height="16" fill="#00ff00"/>
<rect x="148" y="590" width="3" height="21" fill="#00ff00"/>
<rect x="164" y="588" width="3" height="23" fill="#00ff00"/>
<rect x="180" y="586" width="3" height="25" fill="#00ff00"/>
<rect x="196" y="587" width="3" height="24" fill="#00ff00"/>
<rect x="212" y="587" width="3" height="24" fill="#00ff00"/>
<rect x="228" y="589" width="3" height="22" fill="#00ff00"/>
<rect x="244" y="591" width="3" height="20" fill="#00ff00"/>
<rect x="260" y="596" width="3" height="15" fill="#00ff00"/>
<rect x="276" y="601" width="3" height="10" fill="#00ff00"/>
<rect x="292" y="604" width="3" height="7" fill="#00ff00"/>
<rect x="308" y="607" width="3" height="4" fill="#00ff00"/>
<rect x="324" y="610" width="3" height="1" fill="#00ff00"/>
<rect x="340" y="611" width="3" height="4" fill="#00ff00"/>
<rect x="356" y="611" width="3" height="9" fill="#00ff00"/>
<rect x="372" y="611" width="3" height="12" fill="#00ff00"/>
<rect x="388" y="611" width="3" height="17" fill="#00ff00"/>
<rect x="404" y="611" width="3" height="20" fill="#00ff00"/>
<rect x="420" y="611" width="3" height="23" fill="#00ff00"/>
<rect x="436" y="611" width="3" height="25" fill="#00ff00"/>
<rect x="452" y="611" width="3" height="29" fill="#00ff00"/>
<rect x="468" y="611" width="3" height="26" fill="#00ff00"/>
<rect x="484" y="611" width="3" height="23" fill="#00ff00"/>
<rect x="500" y="611" width="3" height="20" fill="#00ff00"/>
<rect x="516" y="611" width="3" height="18" fill="#00ff00"/>
<rect x="532" y="611" width="3" height="16" fill="#00ff00"/>
<rect x="548" y="611" width="3" height="16" fill="#00ff00"/>
<rect x="564" y="611" width="3" height="19" fill="#00ff00"/>
<rect x="580" y="611" width="3" height="19" fill="#00ff00"/>
<rect x="596" y="611" width="3" height="20" fill="#00ff00"/>
<rect x="612" y="611" width="3" height="22" fill="#00ff00"/>
<rect x="628" y="611" width="3" height="24" fill="#00ff00"/>
<rect x="644" y="611" width="3" height="22" fill="#00ff00"/>
<rect x="660" y="611" width="3" height="27" fill="#00ff00"/>
<rect x="676" y="611" width="3" height="34" fill="#00ff00"/>
<rect x="692" y="611" width="3" height="39" fill="#00ff00"/>
<rect x="708" y="611" width="3" height="44" fill="#00ff00"/>
<rect x="724" y="611" width="3" height="47" fill="#00ff00"/>
<rect x="740" y="611" width="3" height="55" fill="#00ff00"/>
<rect x="756" y="611" width="3" height="63" fill="#00ff00"/>
<rect x="772" y="611" width="3" height="68" fill="#00ff00"/>
<rect x="788" y="611" width="3" height="71" fill="#00ff00"/>
<rect x="804" y="611" width="3" height="72" fill="#00ff00"/>
<rect x="820" y="611" width="3" height="74" fill="#00ff00"/>
<rect x="836" y="611" width="3" height="74" fill="#00ff00"/>
<rect x="852" y="611" width="3" height="78" fill="#00ff00"/>
<rect x="868" y="611" width="3" height="78" fill="#00ff00"/>
<rect x="884" y="611" width="3" height="78" fill="#00ff00"/>
<rect x="900" y="611" width="3" height="76" fill="#00ff00"/>
<rect x="916" y="611" width="3" height="73" fill="#00ff00"/>
<rect x="932" y="611" width="3" height="72" fill="#00ff00"/>
<rect x="948" y="611" width="3" height="64" fill="#00ff00"/>
<rect x="964" y="611" width="3" height="58" fill="#00ff00"/>
<rect x="980" y="611" width="3" height="52" fill="#00ff00"/>
<rect x="996" y="611" width="3" height="49" fill="#00ff00"/>
<rect x="1012" y="611" width="3" height="44" fill="#00ff00"/>
<rect x="1028" y="611" width="3" height="44" fill="#00ff00"/>
<rect x="1044" y="611" width="3" height="42" fill="#00ff00"/>
<rect x="1060" y="611" width="3" height="39" fill="#00ff00"/>
<rect x="1076" y="611" width="3" height="38" fill="#00ff00"/>
<rect x="1092" y="611" width="3" height="34" fill="#00ff00"/>
<rect x="1108" y="611" width="3" height="29" fill="#00ff00"/>
<rect x="1124" y="611" width="3" height="25" fill="#00ff00"/>
<rect x="1140" y="611" width="3" height="24" fill="#00ff00"/>
<rect x="1156" y="611" width="3" height="21" fill="#00ff00"/>
<rect x="1172" y="611" width="3" height="19" fill="#00ff00"/>
<rect x="1188" y="611" width="3" height="17" fill="#00ff00"/>
<rect x="1204" y="611" width="3" height="18" fill="#00ff00"/>
<rect x="1220" y="611" width="3" height="16" fill="#00ff00"/>
<rect x="1236" y="611" width="3" height="18" fill="#00ff00"/>
<rect x="1252" y="611" width="3" height="22" fill="#00ff00"/>
<rect x="1268" y="611" width="3" height="29" fill="#00ff00"/>
<rect x="1284" y="611" width="3" height="36" fill="#00ff00"/>
<rect x="1300" y="611" width="3" height="40" fill="#00ff00"/>
<rect x="1316" y="611" width="3" height="41" fill="#00ff00"/>
<rect x="1332" y="611" width="3" height="41" fill="#00ff00"/>
<rect x="1348" y="611" width="3" height="40" fill="#00ff00"/>
<rect x="1364" y="611" width="3" height="39" fill="#00ff00"/>
<polyline points="5,629.0 21,629.0 37,629.0 53,629.0 69,629.0 85,626.8 101,623.5 117,619.2 133,616.2 149,611.6 165,607.6 181,602.4 197,598.4 213,593.9 229,590.9 245,590.6 261,590.1 277,591.4 293,592.2 309,594.2 325,597.5 341,600.5 357,603.3 373,607.4 389,611.2 405,615.7 421,618.7 437,622.8 453,625.6 469,628.4 485,630.0 501,631.6 517,631.6 533,631.6 549,631.6 565,631.0 581,631.0 597,630.1 613,630.0 629,630.0 645,630.0 661,631.3 677,633.6 693,635.2 709,638.0 725,641.0 741,645.2 757,649.3 773,654.6 789,660.4 805,665.4 821,669.5 837,673.3 853,677.0 869,679.9 885,683.6 901,684.4 917,684.7 933,684.7 949,684.7 965,683.6 981,679.9 997,677.0 1013,673.6 1029,669.5 1045,666.2 1061,662.0 1077,657.9 1093,655.1 1109,651.3 1125,648.0 1141,646.3 1157,643.0 1173,639.7 1189,636.9 1205,635.1 1221,633.4 1237,631.0 1253,631.0 1269,631.5 1285,632.7 1301,634.5 1317,637.7 1333,639.4 1349,642.3 1365,644.0" fill="none" stroke="#ff0000" stroke-width="2" shape-rendering="crispEdges"/>
</g>
<g>
<line x1="6" y1="722.5" x2="1644" y2="722.5" stroke="#000" stroke-width="1" stroke-dasharray="3,3"/>
<line x1="6" y1="758.5" x2="1644" y2="758.5" stroke="#000" stroke-width="1" stroke-dasharray="3,3"/>
<line x1="6" y1="800.5" x2="1644" y2="800.5" stroke="#000" stroke-width="1" stroke-dasharray="3,3"/>
</g>
<g clip-path="url(#crsi)">
<polyline points="5,768.0 21,768.0 37,765.2 53,763.8 69,752.7 85,734.9 101,740.7 117,742.3 133,745.6 149,742.0 165,744.8 181,743.0 197,750.9 213,750.9 229,751.9 245,752.7 261,763.8 277,763.8 293,761.8 309,764.8 325,764.8 341,769.0 357,772.6 373,772.6 389,777.9 405,777.9 421,778.9 437,776.7 453,782.0 469,761.8 485,761.4 501,760.7 517,758.9 533,759.9 549,765.2 565,774.8 581,769.3 597,769.3 613,771.0 629,772.8 645,763.8 661,779.2 677,781.7 693,782.5 709,784.7 725,784.7 741,793.0 757,793.8 773,793.8 789,790.8 805,788.0 821,790.8 837,788.0 853,792.0 869,788.3 885,788.0 901,787.0 917,787.0 933,787.0 949,766.0 965,766.8 981,766.8 997,770.6 1013,766.8 1029,775.1 1045,769.6 1061,769.3 1077,770.5 1093,764.3 1109,758.5 1125,759.9 1141,765.7 1157,759.9 1173,760.7 1189,760.7 1205,766.8 1221,761.8 1237,770.1 1253,774.6 1269,781.7 1285,782.9 1301,781.7 1317,775.1 1333,771.8 1349,772.6 1365,772.6" fill="none" stroke="#1e90ff" stroke-width="2" shape-rendering="crispEdges"/>
</g>
<rect x="4" y="23" width="1641" height="1" fill="#000"/>
<rect x="4" y="577" width="1641" height="1" fill="#000"/>
<rect x="4" y="23" width="1" height="555" fill="#000"/>
<rect x="1644" y="23" width="1" height="555" fill="#000"/>
<rect x="4" y="579" width="1641" height="1" fill="#000"/>
<rect x="4" y="694" width="1641" height="1" fill="#000"/>
<rect x="4" y="579" width="1" height="116" fill="#000"/>
<rect x="1644" y="579" width="1" height="116" fill="#000"/>
<rect x="4" y="696" width="1641" height="1" fill="#000"/>
<rect x="4" y="819" width="1641" height="1" fill="#000"/>
<rect x="4" y="696" width="1" height="124" fill="#000"/>
<rect x="1644" y="696" width="1" height="124" fill="#000"/>
<rect x="1645" y="46" width="2" height="1" fill="#000"/>
<text x="1650.2" y="50" font-size="10.0" fill="#000" textLength="33" lengthAdjust="spacingAndGlyphs" xml:space="preserve">1.23010</text>
<rect x="1645" y="79" width="2" height="1" fill="#000"/>
<text x="1650.2" y="83" font-size="10.0" fill="#000" textLength="33" lengthAdjust="spacingAndGlyphs" xml:space="preserve">1.22580</text>
<rect x="1645" y="112" width="2" height="1" fill="#000"/>
<text x="1650.2" y="116" font-size="10.0" fill="#000" textLength="33" lengthAdjust="spacingAndGlyphs" xml:space="preserve">1.22150</text>
<rect x="1645" y="145" width="2" height="1" fill="#000"/>
<text x="1650.2" y="149" font-size="10.0" fill="#000" textLength="33" lengthAdjust="spacingAndGlyphs" xml:space="preserve">1.21720</text>
<rect x="1645" y="178" width="2" height="1" fill="#000"/>
<text x="1650.2" y="182" font-size="10.0" fill="#000" textLength="33" lengthAdjust="spacingAndGlyphs" xml:space="preserve">1.21290</text>
<rect x="1645" y="211" width="2" height="1" fill="#000"/>
<text x="1650.2" y="215" font-size="10.0" fill="#000" textLength="33" lengthAdjust="spacingAndGlyphs" xml:space="preserve">1.20860</text>
<rect x="1645" y="244" width="2" height="1" fill="#000"/>
<text x="1650.2" y="248" font-size="10.0" fill="#000" textLength="33" lengthAdjust="spacingAndGlyphs" xml:space="preserve">1.20430</text>
<rect x="1645" y="277" width="2" height="1" fill="#000"/>
<text x="1650.2" y="281" font-size="10.0" fill="#000" textLength="33" lengthAdjust="spacingAndGlyphs" xml:space="preserve">1.20000</text>
<rect x="1645" y="310" width="2" height="1" fill="#000"/>
<text x="1650.2" y="314" font-size="10.0" fill="#000" textLength="33" lengthAdjust="spacingAndGlyphs" xml:space="preserve">1.19560</text>
<rect x="1645" y="343" width="2" height="1" fill="#000"/>
<text x="1650.2" y="347" font-size="10.0" fill="#000" textLength="33" lengthAdjust="spacingAndGlyphs" xml:space="preserve">1.19130</text>
<rect x="1645" y="376" width="2" height="1" fill="#000"/>
<text x="1650.2" y="380" font-size="10.0" fill="#000" textLength="33" lengthAdjust="spacingAndGlyphs" xml:space="preserve">1.18700</text>
<rect x="1645" y="409" width="2" height="1" fill="#000"/>
<text x="1650.2" y="413" font-size="10.0" fill="#000" textLength="33" lengthAdjust="spacingAndGlyphs" xml:space="preserve">1.18270</text>
<rect x="1645" y="442" width="2" height="1" fill="#000"/>
<text x="1650.2" y="446" font-size="10.0" fill="#000" textLength="33" lengthAdjust="spacingAndGlyphs" xml:space="preserve">1.17840</text>
<rect x="1645" y="475" width="2" height="1" fill="#000"/>
<text x="1650.2" y="479" font-size="10.0" fill="#000" textLength="33" lengthAdjust="spacingAndGlyphs" xml:space="preserve">1.17410</text>
<rect x="1645" y="508" width="2" height="1" fill="#000"/>
<text x="1650.2" y="512" font-size="10.0" fill="#000" textLength="33" lengthAdjust="spacingAndGlyphs" xml:space="preserve">1.16980</text>
<rect x="1645" y="541" width="2" height="1" fill="#000"/>
<text x="1650.2" y="545" font-size="10.0" fill="#000" textLength="33" lengthAdjust="spacingAndGlyphs" xml:space="preserve">1.16550</text>
<rect x="1645" y="574" width="2" height="1" fill="#000"/>
<text x="1650.2" y="578" font-size="10.0" fill="#000" textLength="33" lengthAdjust="spacingAndGlyphs" xml:space="preserve">1.16120</text>
<rect x="1646" y="410" width="41" height="11" fill="#ff0000"/>
<text x="1650.2" y="419" font-size="10.0" fill="#fff" textLength="33" lengthAdjust="spacingAndGlyphs" xml:space="preserve">1.18180</text>
<rect x="1646" y="445" width="41" height="11" fill="#ff0000"/>
<text x="1650.2" y="454" font-size="10.0" fill="#fff" textLength="33" lengthAdjust="spacingAndGlyphs" xml:space="preserve">1.17728</text>
<rect x="1646" y="481" width="41" height="11" fill="#ffa500"/>
<text x="1650.2" y="490" font-size="10.0" fill="#fff" textLength="33" lengthAdjust="spacingAndGlyphs" xml:space="preserve">1.17263</text>
<rect x="1646" y="532" width="41" height="11" fill="#0000ff"/>
<text x="1650.2" y="541" font-size="10.0" fill="#fff" textLength="33" lengthAdjust="spacingAndGlyphs" xml:space="preserve">1.16598</text>
<rect x="1646" y="564" width="41" height="11" fill="#0000ff"/>
<text x="1650.2" y="573" font-size="10.0" fill="#fff" textLength="33" lengthAdjust="spacingAndGlyphs" xml:space="preserve">1.16181</text>
<rect x="1646" y="497" width="41" height="11" fill="#000"/>
<text x="1650.2" y="506" font-size="10.0" fill="#fff" textLength="33" lengthAdjust="spacingAndGlyphs" xml:space="preserve">1.17058</text>
<rect x="1645" y="581" width="2" height="1" fill="#000"/>
<rect x="1645" y="611" width="2" height="1" fill="#000"/>
<rect x="1645" y="693" width="2" height="1" fill="#000"/>
<text x="1647.8" y="590" font-size="10.0" fill="#000" textLength="28.4" lengthAdjust="spacingAndGlyphs" xml:space="preserve">0.0032</text>
<text x="1647.8" y="615" font-size="10.0" fill="#000" textLength="18.3" lengthAdjust="spacingAndGlyphs" xml:space="preserve">0.00</text>
<text x="1647.5" y="691" font-size="10.0" fill="#000" textLength="41.8" lengthAdjust="spacingAndGlyphs" xml:space="preserve">-0.008529</text>
<rect x="1645" y="698" width="2" height="1" fill="#000"/>
<rect x="1645" y="818" width="2" height="1" fill="#000"/>
<text x="1647.6" y="707" font-size="10.0" fill="#000" textLength="15.2" lengthAdjust="spacingAndGlyphs" xml:space="preserve">100</text>
<text x="1647" y="726" font-size="10.0" fill="#000" textLength="10.7" lengthAdjust="spacingAndGlyphs" xml:space="preserve">80</text>
<text x="1647" y="762" font-size="10.0" fill="#000" textLength="10.7" lengthAdjust="spacingAndGlyphs" xml:space="preserve">50</text>
<text x="1647" y="804" font-size="10.0" fill="#000" textLength="10.7" lengthAdjust="spacingAndGlyphs" xml:space="preserve">15</text>
<text x="1647.6" y="816" font-size="10.0" fill="#000" textLength="5.4" lengthAdjust="spacingAndGlyphs" xml:space="preserve">0</text>
<rect x="5" y="820" width="1" height="3" fill="#000"/>
<text x="4.2" y="832" font-size="10.0" fill="#000" textLength="48.6" lengthAdjust="spacingAndGlyphs" xml:space="preserve">9 Aug 2022</text>
<rect x="69" y="820" width="1" height="3" fill="#000"/>
<text x="68.2" y="832" font-size="10.0" fill="#000" textLength="56.3" lengthAdjust="spacingAndGlyphs" xml:space="preserve">10 Aug 08:00</text>
<rect x="133" y="820" width="1" height="3" fill="#000"/>
<text x="132.2" y="832" font-size="10.0" fill="#000" textLength="56.3" lengthAdjust="spacingAndGlyphs" xml:space="preserve">11 Aug 00:00</text>
<rect x="197" y="820" width="1" height="3" fill="#000"/>
<text x="196.2" y="832" font-size="10.0" fill="#000" textLength="56.3" lengthAdjust="spacingAndGlyphs" xml:space="preserve">11 Aug 16:00</text>
<rect x="261" y="820" width="1" height="3" fill="#000"/>
<text x="260.2" y="832" font-size="10.0" fill="#000" textLength="56.3" lengthAdjust="spacingAndGlyphs" xml:space="preserve">12 Aug 08:00</text>
<rect x="325" y="820" width="1" height="3" fill="#000"/>
<text x="324.2" y="832" font-size="10.0" fill="#000" textLength="56.3" lengthAdjust="spacingAndGlyphs" xml:space="preserve">15 Aug 00:00</text>
<rect x="389" y="820" width="1" height="3" fill="#000"/>
<text x="388.2" y="832" font-size="10.0" fill="#000" textLength="56.3" lengthAdjust="spacingAndGlyphs" xml:space="preserve">15 Aug 16:00</text>
<rect x="453" y="820" width="1" height="3" fill="#000"/>
<text x="452.2" y="832" font-size="10.0" fill="#000" textLength="56.3" lengthAdjust="spacingAndGlyphs" xml:space="preserve">16 Aug 08:00</text>
<rect x="517" y="820" width="1" height="3" fill="#000"/>
<text x="516.2" y="832" font-size="10.0" fill="#000" textLength="56.3" lengthAdjust="spacingAndGlyphs" xml:space="preserve">17 Aug 00:00</text>
<rect x="581" y="820" width="1" height="3" fill="#000"/>
<text x="580.2" y="832" font-size="10.0" fill="#000" textLength="56.3" lengthAdjust="spacingAndGlyphs" xml:space="preserve">17 Aug 16:00</text>
<rect x="645" y="820" width="1" height="3" fill="#000"/>
<text x="644.2" y="832" font-size="10.0" fill="#000" textLength="56.3" lengthAdjust="spacingAndGlyphs" xml:space="preserve">18 Aug 08:00</text>
<rect x="709" y="820" width="1" height="3" fill="#000"/>
<text x="708.2" y="832" font-size="10.0" fill="#000" textLength="56.3" lengthAdjust="spacingAndGlyphs" xml:space="preserve">19 Aug 00:00</text>
<rect x="773" y="820" width="1" height="3" fill="#000"/>
<text x="772.2" y="832" font-size="10.0" fill="#000" textLength="56.3" lengthAdjust="spacingAndGlyphs" xml:space="preserve">19 Aug 16:00</text>
<rect x="837" y="820" width="1" height="3" fill="#000"/>
<text x="836.2" y="832" font-size="10.0" fill="#000" textLength="56.3" lengthAdjust="spacingAndGlyphs" xml:space="preserve">22 Aug 08:00</text>
<rect x="901" y="820" width="1" height="3" fill="#000"/>
<text x="900.2" y="832" font-size="10.0" fill="#000" textLength="56.3" lengthAdjust="spacingAndGlyphs" xml:space="preserve">23 Aug 00:00</text>
<rect x="965" y="820" width="1" height="3" fill="#000"/>
<text x="964.2" y="832" font-size="10.0" fill="#000" textLength="56.3" lengthAdjust="spacingAndGlyphs" xml:space="preserve">23 Aug 16:00</text>
<rect x="1029" y="820" width="1" height="3" fill="#000"/>
<text x="1028.2" y="832" font-size="10.0" fill="#000" textLength="56.3" lengthAdjust="spacingAndGlyphs" xml:space="preserve">24 Aug 08:00</text>
<rect x="1093" y="820" width="1" height="3" fill="#000"/>
<text x="1092.2" y="832" font-size="10.0" fill="#000" textLength="56.3" lengthAdjust="spacingAndGlyphs" xml:space="preserve">25 Aug 00:00</text>
<rect x="1157" y="820" width="1" height="3" fill="#000"/>
<text x="1156.2" y="832" font-size="10.0" fill="#000" textLength="56.3" lengthAdjust="spacingAndGlyphs" xml:space="preserve">25 Aug 16:00</text>
<rect x="1221" y="820" width="1" height="3" fill="#000"/>
<text x="1220.2" y="832" font-size="10.0" fill="#000" textLength="56.3" lengthAdjust="spacingAndGlyphs" xml:space="preserve">26 Aug 08:00</text>
<rect x="1285" y="820" width="1" height="3" fill="#000"/>
<text x="1284.2" y="832" font-size="10.0" fill="#000" textLength="56.3" lengthAdjust="spacingAndGlyphs" xml:space="preserve">29 Aug 00:00</text>
<rect x="1349" y="820" width="1" height="3" fill="#000"/>
<text x="1348.2" y="832" font-size="10.0" fill="#000" textLength="56.3" lengthAdjust="spacingAndGlyphs" xml:space="preserve">29 Aug 16:00</text>
<g shape-rendering="geometricPrecision"><polygon points="8,30 15,30 11.5,34" fill="#000"/></g>
<text x="19.6" y="35" font-size="10.0" fill="#000" textLength="205" lengthAdjust="spacingAndGlyphs" xml:space="preserve">GBPUSD-,H4  1.17033 1.17061 1.16982 1.17058</text>
<text x="9" y="592" font-size="10.0" fill="#000" textLength="154.3" lengthAdjust="spacingAndGlyphs" xml:space="preserve">MACD(12,26,9) -0.003957 -0.003415</text>
<text x="8.8" y="709" font-size="10.0" fill="#000" textLength="68.8" lengthAdjust="spacingAndGlyphs" xml:space="preserve">RSI(14) 38.2443</text>
</svg>
</body></html>
